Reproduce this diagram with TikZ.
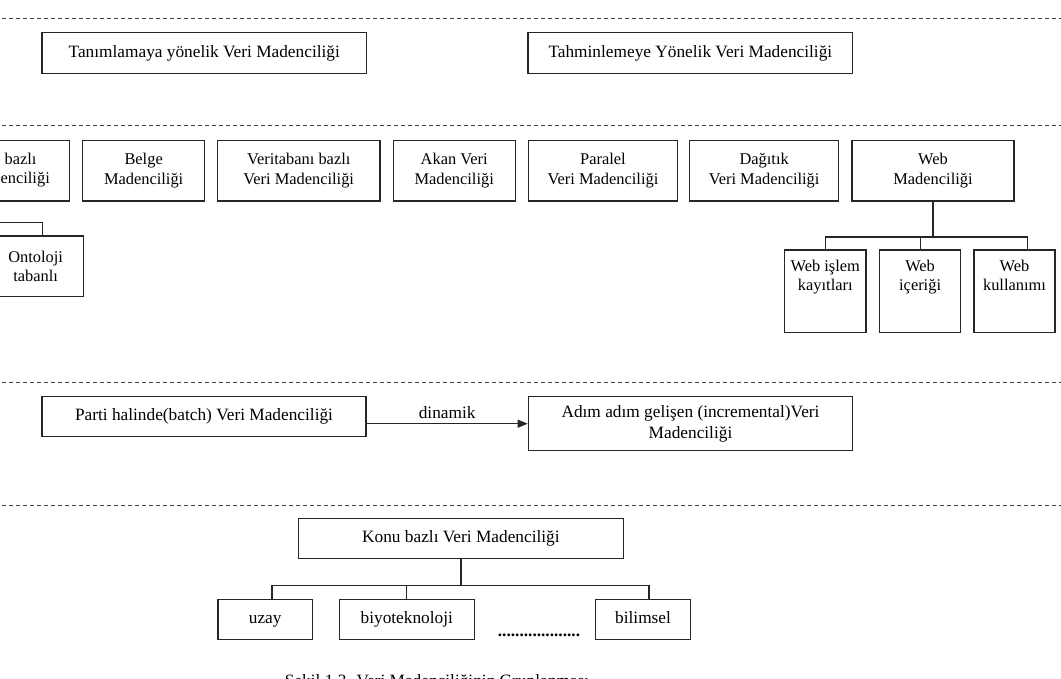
\documentclass[tikz,border=0pt]{standalone}
\usepackage{fontspec}
\setmainfont{Liberation Serif}
\usetikzlibrary{arrows.meta}
\begin{document}
\begin{tikzpicture}[x=1pt,y=-1pt,
  box/.style={draw=black!85, line width=1.2pt, inner sep=0pt, align=center, font=\fontsize{16.4}{19.6}\selectfont},
  bigbox/.style={box, font=\fontsize{17.3}{20.7}\selectfont},
  oneline/.style={text height=12pt, text depth=3.8pt},
  sep/.style={draw=black!75, line width=0.9pt, dash pattern=on 4pt off 3pt},
  link/.style={draw=black!85, line width=1.2pt},
  lbl/.style={inner sep=0pt, align=center, font=\fontsize{16.4}{19}\selectfont},
  biglbl/.style={inner sep=0pt, align=center, font=\fontsize{17.3}{20.7}\selectfont},
]
\useasboundingbox (0,0) rectangle (1061,678);
\clip (0,0) rectangle (1061,678);

% separators
\coordinate (s1l) at (-5,18.6);  \coordinate (s1r) at (1066,18.6);
\coordinate (s2l) at (-5,125.5); \coordinate (s2r) at (1066,125.5);
\coordinate (s3l) at (-5,382.7); \coordinate (s3r) at (1066,382.7);
\coordinate (s4l) at (-5,505.5); \coordinate (s4r) at (1066,505.5);
\draw[sep] (s1l) -- (s1r);
\draw[sep] (s2l) -- (s2r);
\draw[sep] (s3l) -- (s3r);
\draw[sep] (s4l) -- (s4r);

% row 1
\node[bigbox, oneline, minimum width=324.5, minimum height=41.2] (tan) at (204.25,53.1) {Tanımlamaya yönelik Veri Madenciliği};
\node[bigbox, oneline, minimum width=324.7, minimum height=41.2] (tah) at (690.35,53.1) {Tahminlemeye Yönelik Veri Madenciliği};

% row 2
\node[box, minimum width=120.6, minimum height=60.7] (b0) at (9.3,170.65) {};
\node[lbl, anchor=base east] (b0a) at (36.7,164) {bazlı};
\node[lbl, anchor=base east] (b0b) at (50,183.6) {enciliği};
\node[box, minimum width=121.7, minimum height=60.7] (belge) at (143.65,170.65) {Belge\\Madenciliği};
\node[box, minimum width=162.6, minimum height=60.7] (vtb) at (298.7,170.65) {Veritabanı bazlı\\Veri Madenciliği};
\node[box, minimum width=122, minimum height=60.7] (akan) at (454.2,170.65) {Akan Veri\\Madenciliği};
\node[box, minimum width=149, minimum height=60.7] (par) at (603,170.65) {Paralel\\Veri Madenciliği};
\node[box, minimum width=148.7, minimum height=60.7] (dag) at (764.15,170.65) {Dağıtık\\Veri Madenciliği};
\node[box, minimum width=162, minimum height=60.7] (web) at (933,170.65) {Web\\Madenciliği};

% ontoloji
\node[box, minimum width=95.2, minimum height=60.8] (onto) at (35.6,266.4) {Ontoloji\\tabanlı};
\coordinate (ontoj) at (-30,222.4);
\draw[link] ([xshift=7pt]onto.north) |- (ontoj);

% web children
\node[box, minimum width=81.4, minimum height=82.7] (w1) at (825.3,291.35) {};
\node[box, minimum width=81.2, minimum height=82.7] (w2) at (920.1,291.35) {};
\node[box, minimum width=81, minimum height=82.7] (w3) at (1014.5,291.35) {};
\node[lbl, anchor=north] (w1t) at ([yshift=-11pt]w1.north) {Web işlem\\kayıtları};
\node[lbl, anchor=north] (w2t) at ([yshift=-11pt]w2.north) {Web\\içeriği};
\node[lbl, anchor=north] (w3t) at ([yshift=-11pt]w3.north) {Web\\kullanımı};
\coordinate (wbar) at (933,237);
\draw[link] (web.south) -- (wbar);
\draw[link] (w1.north) |- (wbar);
\draw[link] (w2.north) -- (w2.north |- wbar);
\draw[link] ([xshift=13.3pt]w3.north) |- (wbar);

% row 3
\node[bigbox, oneline, minimum width=324, minimum height=40] (batch) at (204,416.7) {Parti halinde(batch) Veri Madenciliği};
\node[bigbox, minimum width=324.4, minimum height=54] (incr) at (690.5,423.7) {Adım adım gelişen (incremental)Veri\\Madenciliği};
\draw[link, -{Triangle[length=10pt,width=8pt]}] (batch.east |- incr.west) -- node[above, inner sep=4.5pt, font=\fontsize{17.3}{20}\selectfont] (din) {dinamik} (incr.west);

% row 4
\node[bigbox, oneline, minimum width=324.6, minimum height=40.4] (konu) at (460.9,538.5) {Konu bazlı Veri Madenciliği};
\node[bigbox, oneline, minimum width=94.6, minimum height=40.2] (uzay) at (265.2,619.4) {uzay};
\node[bigbox, oneline, minimum width=135, minimum height=40.2] (biyo) at (406.8,619.4) {biyoteknoloji};
\node[bigbox, oneline, minimum width=94.7, minimum height=40.2] (bil) at (643.05,619.4) {bilimsel};
\coordinate (kbar) at (460.9,585.7);
\draw[link] (konu.south) -- (kbar);
\draw[link] ([xshift=6.8pt]uzay.north) |- (kbar);
\draw[link] (biyo.north) |- (kbar);
\draw[link] ([xshift=6pt]bil.north) |- (kbar);
\node[biglbl, anchor=base, font=\fontsize{17.3}{20}\selectfont\bfseries] (dots) at (539,636.5) {...................};

% caption (cut by the lower edge, as in the reference)
\node[biglbl, anchor=base] (cap) at (437,686.5) {Şekil 1.3. Veri Madenciliğinin Gruplanması};
\end{tikzpicture}
\end{document}
